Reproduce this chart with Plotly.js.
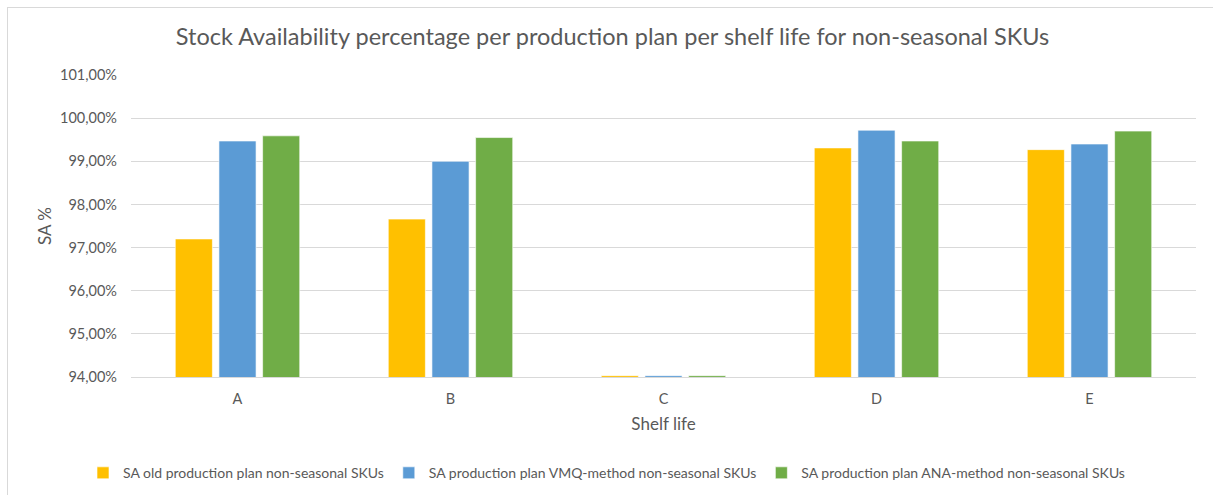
<!DOCTYPE html>
<html>
<head>
<meta charset="utf-8">
<script src="https://cdn.plot.ly/plotly-3.0.1.min.js"></script>
<style>
  html, body { margin: 0; padding: 0; background: #fff; }
  #wrap { position: relative; width: 1213px; height: 495px; }
  #chart { width: 1213px; height: 495px; }
  #frame { position: absolute; left: 7px; top: 7px; right: -2px; bottom: -2px;
           border-top: 1px solid #d9d9d9; border-left: 1px solid #d9d9d9; pointer-events: none; }
</style>
</head>
<body>
<div id="wrap">
  <div id="chart"></div>
  <div id="frame"></div>
</div>
<script>
// Shelf-life categories
const shelfLife = ['A', 'B', 'C', 'D', 'E'];

// Stock availability (%) per production plan
const saOldPlan = [97.20, 97.66, 94.03, 99.31, 99.27];
const saVmqPlan = [99.47, 99.00, 94.03, 99.72, 99.40];
const saAnaPlan = [99.59, 99.55, 94.03, 99.47, 99.70];

// Y-axis ticks and their labels (comma decimal)
const yTickVals = [94, 95, 96, 97, 98, 99, 100, 101];
const yTickText = ['94,00%', '95,00%', '96,00%', '97,00%', '98,00%', '99,00%', '100,00%', '101,00%'];

const seriesNames = [
  'SA old production plan non-seasonal SKUs',
  'SA production plan VMQ-method non-seasonal SKUs',
  'SA production plan ANA-method non-seasonal SKUs'
];
const seriesColors = ['#FFC000', '#5B9BD5', '#70AD47'];

const FONT = 'Lato, "Open Sans", sans-serif';
const GREY = '#595959';

const traces = [saOldPlan, saVmqPlan, saAnaPlan].map((vals, i) => ({
  type: 'bar',
  name: seriesNames[i],
  x: shelfLife,
  y: vals,
  marker: { color: seriesColors[i], line: { color: 'rgba(255,255,255,0.6)', width: 1 } },
  hoverinfo: 'x+y+name'
}));

const layout = {
  width: 1213,
  height: 495,
  paper_bgcolor: '#ffffff',
  plot_bgcolor: '#ffffff',
  margin: { l: 131, r: 17, t: 75, b: 118, autoexpand: false },
  separators: ',.',
  font: { family: FONT, color: GREY, size: 14 },
  title: {
    text: 'Stock Availability percentage per production plan per shelf life for non-seasonal SKUs',
    font: { family: FONT, size: 23.5, color: GREY },
    x: 0.505, xanchor: 'center',
    y: 0.925, yanchor: 'middle'
  },
  barmode: 'group',
  bargap: 0.385,
  bargroupgap: 0.15,
  xaxis: {
    type: 'category',
    showgrid: false,
    showline: true,
    linecolor: '#d9d9d9',
    linewidth: 1,
    ticks: '',
    ticklabelstandoff: 9,
    tickfont: { family: FONT, size: 14.5, color: GREY },
    title: { text: 'Shelf life', font: { family: FONT, size: 17, color: GREY }, standoff: 11 }
  },
  yaxis: {
    range: [94, 101],
    tickmode: 'array',
    tickvals: yTickVals,
    ticktext: yTickText,
    showgrid: true,
    gridcolor: '#d9d9d9',
    gridwidth: 1,
    zeroline: false,
    showline: false,
    ticks: '',
    ticklabelstandoff: 13,
    tickfont: { family: FONT, size: 14.5, color: GREY },
    title: { text: 'SA %', font: { family: FONT, size: 17, color: GREY }, standoff: 4 }
  },
  legend: {
    orientation: 'h',
    xref: 'container', yref: 'container',
    x: 0.5, xanchor: 'center',
    y: 0.044, yanchor: 'middle',
    font: { family: FONT, size: 14, color: GREY },
    itemwidth: 30,
    traceorder: 'normal'
  },
  showlegend: true
};

Plotly.newPlot('chart', traces, layout, { displayModeBar: false, staticPlot: true });
</script>
</body>
</html>
